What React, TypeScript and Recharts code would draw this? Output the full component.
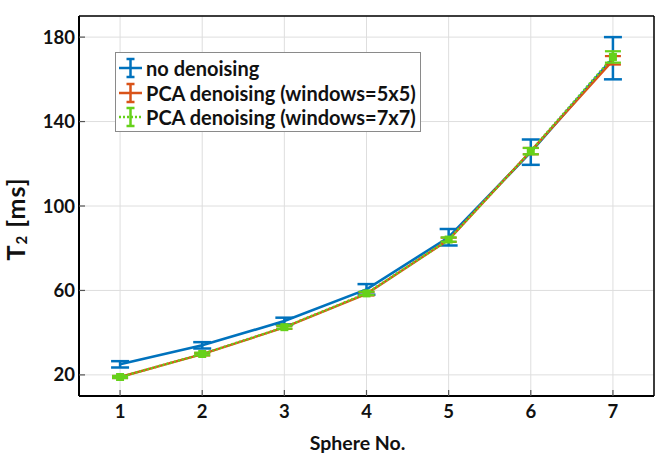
import React from 'react';
import { LineChart, Line, XAxis, YAxis, CartesianGrid, ErrorBar, ReferenceLine, Legend } from 'recharts';

const spheres = [1, 2, 3, 4, 5, 6, 7];
const noDenoise = [25, 34, 45.5, 60.5, 85.2, 125.5, 170];
const noDenoiseErr = [1.5, 1.5, 1.6, 2.5, 3.9, 6, 10];
const pca5 = [19, 29.8, 42.5, 58.4, 84, 126, 169];
const pca5Err = [0.5, 0.6, 0.7, 0.8, 1, 1.5, 2];
const pca7 = [19, 29.9, 42.6, 58.6, 84.1, 126, 170.6];
const pca7Err = [0.5, 0.6, 0.7, 0.8, 1, 1.5, 2.7];
const xTicks = [1, 2, 3, 4, 5, 6, 7];
const yTicks = [20, 60, 100, 140, 180];
const seriesNames = ['no denoising', 'PCA denoising (windows=5x5)', 'PCA denoising (windows=7x7)'];

const BLUE = '#0072BD';
const ORANGE = '#D95319';
const GREEN = '#66D11A';
const FONT = 'Lato, "Open Sans", sans-serif';

const data = spheres.map((s, i) => ({
  x: s,
  no: noDenoise[i],
  noErr: noDenoiseErr[i],
  p5: pca5[i],
  p5Err: pca5Err[i],
  p7: pca7[i],
  p7Err: pca7Err[i],
}));

const XTick = (props: any) => {
  const { x, y, payload } = props;
  return (
    <g>
      <line x1={x} x2={x} y1={y} y2={y - 6} stroke="#555" strokeWidth={1.2} />
      <text x={x} y={y + 22} textAnchor="middle" fontFamily={FONT} fontWeight={700} fontSize={18.5} fill="#111">
        {payload.value}
      </text>
    </g>
  );
};

const YTick = (props: any) => {
  const { x, y, payload } = props;
  return (
    <g>
      <line x1={x} x2={x + 6} y1={y} y2={y} stroke="#555" strokeWidth={1.2} />
      <text x={x - 4} y={y + 6.5} textAnchor="end" fontFamily={FONT} fontWeight={700} fontSize={18.5} fill="#111">
        {payload.value}
      </text>
    </g>
  );
};

const YLabel = (props: any) => {
  const vb = props.viewBox || { x: 0, y: 16, width: 79, height: 380 };
  const cx = 15;
  const cy = vb.y + vb.height / 2 + 13;
  return (
    <text
      x={cx}
      y={cy}
      transform={`rotate(-90, ${cx}, ${cy})`}
      textAnchor="middle"
      dominantBaseline="central"
      fontFamily={FONT}
      fontWeight={700}
      fontSize={25}
      letterSpacing={1}
      fill="#111"
    >
      T<tspan fontSize={15} dy={6}>2</tspan>
      <tspan dy={-6}> [ms]</tspan>
    </text>
  );
};

const XLabel = (props: any) => {
  const vb = props.viewBox || { x: 79, y: 396, width: 575, height: 69 };
  return (
    <text
      x={vb.x + vb.width / 2 - 9}
      y={vb.y + 54}
      textAnchor="middle"
      fontFamily={FONT}
      fontWeight={700}
      fontSize={19.5}
      fill="#111"
    >
      Sphere No.
    </text>
  );
};

const Icon = ({ color, dotted }: { color: string; dotted?: boolean }) => (
  <svg width={28} height={24} style={{ flex: 'none' }}>
    <line x1={2} x2={25} y1={12} y2={12} stroke={color} strokeWidth={2.5} strokeDasharray={dotted ? '2 2' : undefined} />
    <line x1={13.5} x2={13.5} y1={3} y2={21} stroke={color} strokeWidth={2.5} />
    <line x1={9.5} x2={17.5} y1={3} y2={3} stroke={color} strokeWidth={2.5} />
    <line x1={9.5} x2={17.5} y1={21} y2={21} stroke={color} strokeWidth={2.5} />
  </svg>
);

const LegendBox = () => {
  const colors = [BLUE, ORANGE, GREEN];
  return (
    <div
      style={{
        border: '1.5px solid #8a8a8a',
        background: '#fff',
        width: 303,
        height: 75,
        padding: '3px 0 0 1px',
        boxSizing: 'content-box',
        fontFamily: FONT,
        fontWeight: 700,
        fontSize: 20,
        color: '#111',
      }}
    >
      {seriesNames.map((n, i) => (
        <div key={n} style={{ display: 'flex', alignItems: 'center', height: 24.5, whiteSpace: 'nowrap' }}>
          <Icon color={colors[i]} dotted={i === 2} />
          <span style={{ marginLeft: 1 }}>{n}</span>
        </div>
      ))}
    </div>
  );
};

const SquareDot = (props: any) => {
  const { cx, cy } = props;
  if (cx == null || cy == null) return null;
  return <rect x={cx - 4} y={cy - 4} width={8} height={8} fill={GREEN} />;
};

export default function App() {
  return (
    <div style={{ position: 'absolute', left: 0, top: 0, width: 665, height: 465, background: '#fff' }}>
      <LineChart width={665} height={465} data={data} margin={{ top: 16, right: 11, bottom: 0, left: 0 }}>
        <CartesianGrid stroke="#dedede" strokeWidth={1} />
        <XAxis
          dataKey="x"
          type="number"
          domain={[0.5, 7.5]}
          ticks={xTicks}
          height={69}
          tickSize={0}
          tickMargin={0}
          tick={<XTick />}
          axisLine={{ stroke: '#000', strokeWidth: 2 }}
          label={<XLabel />}
          interval={0}
          allowDataOverflow
        />
        <YAxis
          type="number"
          domain={[10, 190]}
          ticks={yTicks}
          width={79}
          tickSize={0}
          tickMargin={0}
          tick={<YTick />}
          axisLine={{ stroke: '#000', strokeWidth: 2 }}
          label={<YLabel />}
          interval={0}
          allowDataOverflow
        />
        <ReferenceLine y={190} stroke="#000" strokeWidth={1.5} />
        <ReferenceLine x={7.5} stroke="#000" strokeWidth={1.5} />
        <Legend
          layout="vertical"
          align="center"
          verticalAlign="middle"
          content={<LegendBox />}
          wrapperStyle={{ position: 'absolute', left: 115, top: 52, width: 310, height: 82 }}
        />
        <Line
          dataKey="no"
          name={seriesNames[0]}
          stroke={BLUE}
          strokeWidth={2.6}
          dot={false}
          activeDot={false}
          isAnimationActive={false}
        >
          <ErrorBar dataKey="noErr" direction="y" width={9} stroke={BLUE} strokeWidth={2.5} isAnimationActive={false} />
        </Line>
        <Line
          dataKey="p5"
          name={seriesNames[1]}
          stroke={ORANGE}
          strokeWidth={2.4}
          dot={false}
          activeDot={false}
          isAnimationActive={false}
        >
          <ErrorBar dataKey="p5Err" direction="y" width={8} stroke={ORANGE} strokeWidth={2.2} isAnimationActive={false} />
        </Line>
        <Line
          dataKey="p7"
          name={seriesNames[2]}
          stroke={GREEN}
          strokeWidth={2.4}
          strokeDasharray="2 2"
          dot={<SquareDot />}
          activeDot={false}
          isAnimationActive={false}
        >
          <ErrorBar dataKey="p7Err" direction="y" width={8} stroke={GREEN} strokeWidth={2.2} isAnimationActive={false} />
        </Line>
      </LineChart>
    </div>
  );
}
